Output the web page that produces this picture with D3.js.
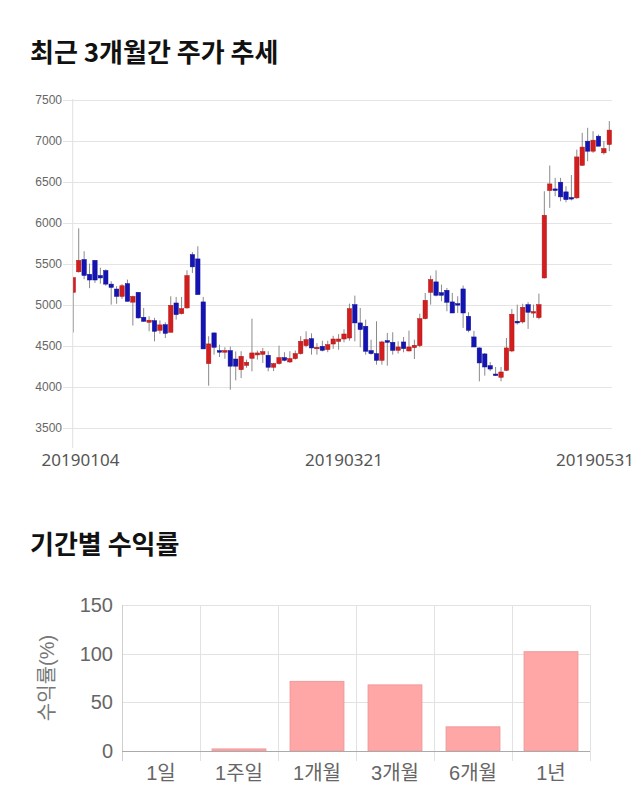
<!DOCTYPE html>
<html><head><meta charset="utf-8">
<script src="https://cdn.jsdelivr.net/npm/d3@7"></script>
<style>
html,body{margin:0;padding:0;background:#fff;}
svg{display:block;}
</style>
</head><body>
<svg id="chart" width="640" height="810"></svg>
<script>
// ---- Candle data (trading days 2019-01-04 .. 2019-05-31) ----
const dates = [
"20190104","20190107","20190108","20190109","20190110","20190111","20190114","20190115","20190116","20190117",
"20190118","20190121","20190122","20190123","20190124","20190125","20190128","20190129","20190130","20190131",
"20190201","20190207","20190208","20190211","20190212","20190213","20190214","20190215","20190218","20190219",
"20190220","20190221","20190222","20190225","20190226","20190227","20190228","20190304","20190305","20190306",
"20190307","20190308","20190311","20190312","20190313","20190314","20190315","20190318","20190319","20190320",
"20190321","20190322","20190325","20190326","20190327","20190328","20190329","20190401","20190402","20190403",
"20190404","20190405","20190408","20190409","20190410","20190411","20190412","20190415","20190416","20190417",
"20190418","20190419","20190422","20190423","20190424","20190425","20190426","20190429","20190430","20190502",
"20190503","20190507","20190508","20190509","20190510","20190513","20190514","20190515","20190516","20190517",
"20190520","20190521","20190522","20190523","20190524","20190527","20190528","20190529","20190530","20190531"];
const opens = [
5150,5400,5550,5370,5540,5355,5415,5250,5190,5100,
5256,5030,5150,4846,4785,4805,4687,4756,4663,5020,
4890,4960,5610,5557,5033,4281,4655,4440,4420,4440,
4337,4207,4260,4346,4387,4395,4383,4237,4281,4354,
4301,4342,4403,4500,4585,4464,4492,4452,4520,4553,
4581,4593,5000,4777,4736,4440,4403,4321,4561,4541,
4443,4545,4435,4476,4500,4829,5150,5277,5146,5175,
5033,5012,5191,4858,4606,4472,4399,4256,4154,4114,
4199,4435,4797,4789,5000,4902,4841,5325,6390,6410,
6492,6374,6305,6301,6698,6992,6870,7053,6850,6951];
const highs = [
5330,5930,5650,5500,5540,5450,5430,5285,5225,5250,
5305,5110,5150,4960,4858,4840,4808,4785,5102,5094,
5094,5418,5640,5711,5094,4615,4660,4512,4480,4490,
4430,4432,4330,4829,4440,4472,4432,4290,4500,4420,
4432,4440,4615,4675,4650,4530,4560,4560,4620,4640,
4700,5012,5110,4960,4817,4573,4797,4560,4655,4663,
4553,4606,4683,4573,4890,5142,5354,5418,5244,5203,
5142,5102,5232,4907,4680,4480,4410,4300,4240,4240,
4593,4947,5000,5010,5030,5000,5134,6382,6695,6545,
6545,6443,6580,6890,7094,7155,7114,7073,6992,7237];
const lows = [
4660,5390,5310,5200,5265,5255,5230,5000,5010,5070,
5040,4745,4830,4790,4675,4553,4646,4593,4663,4817,
4880,4950,5386,5122,4460,4012,4390,4362,4340,3963,
4077,4105,4230,4187,4330,4289,4187,4190,4270,4310,
4290,4330,4390,4480,4390,4390,4430,4420,4460,4450,
4540,4560,4553,4480,4390,4390,4268,4268,4256,4390,
4403,4419,4430,4337,4480,4820,5000,5100,5041,4919,
4898,4898,4716,4663,4480,4065,4134,4190,4130,4065,
4190,4420,4756,4770,4704,4840,4820,5320,6179,6321,
6260,6248,6270,6290,6690,6748,6850,6931,6829,6870];
const closes = [
5330,5540,5355,5300,5300,5325,5250,5210,5100,5230,
5040,5100,4838,4797,4810,4675,4753,4650,4992,4878,
4951,5354,5460,5122,4460,4521,4480,4420,4440,4250,
4250,4370,4297,4411,4411,4427,4237,4281,4354,4321,
4342,4403,4553,4573,4472,4480,4443,4512,4581,4581,
4642,4951,4777,4696,4432,4403,4321,4545,4541,4443,
4484,4464,4484,4504,4829,5053,5305,5114,5114,5029,
4898,4996,4898,4687,4484,4289,4240,4215,4138,4179,
4472,4883,4777,4968,4907,4915,5000,6089,6471,6398,
6313,6280,6297,6800,6920,6870,7004,6931,6902,7127];
const priceTicks = [3500,4000,4500,5000,5500,6000,6500,7000,7500];
const dateLabels = ["20190104","20190321","20190531"];

// ---- Return bar data ----
const periods = ["1일","1주일","1개월","3개월","6개월","1년"];
const returns = [0, 2.1, 71.5, 67.9, 24.8, 102];
const returnTicks = [0,50,100,150];

const svg = d3.select("#chart");
const KFONT = "'Noto Sans CJK KR','Noto Sans',sans-serif";
const AFONT = "'Liberation Sans',Arial,'Noto Sans CJK KR',sans-serif";

// Titles
svg.append("text").attr("x",30).attr("y",62).text("최근 3개월간 주가 추세")
  .attr("font-family",KFONT).attr("font-weight","bold").attr("font-size",26).attr("fill","#111");
svg.append("text").attr("x",30).attr("y",554).text("기간별 수익률")
  .attr("font-family",KFONT).attr("font-weight","bold").attr("font-size",26).attr("fill","#111");

// ---- Candlestick chart ----
const cLeft = 72.7, cRight = 612;
const x = d3.scalePoint().domain(dates).range([73.3, 609.3]);
const y = d3.scaleLinear().domain([3500,7500]).range([427.7, 99.5]);

const cg = svg.append("g");
cg.selectAll("line.grid").data(priceTicks).join("line")
  .attr("x1",63).attr("x2",cRight)
  .attr("y1",d=>Math.round(y(d))+0.5).attr("y2",d=>Math.round(y(d))+0.5)
  .attr("stroke","#e4e4e4").attr("stroke-width",1);
cg.selectAll("text.pt").data(priceTicks).join("text")
  .attr("x",62).attr("y",d=>y(d)+4).attr("text-anchor","end")
  .attr("font-family",AFONT).attr("font-size",12).attr("fill","#666").text(d=>d);
cg.append("line").attr("x1",cLeft).attr("x2",cLeft).attr("y1",99).attr("y2",448)
  .attr("stroke","#e0e0e0").attr("stroke-width",1);

svg.append("clipPath").attr("id","cclip").append("rect")
  .attr("x",cLeft+0.5).attr("y",90).attr("width",cRight-cLeft).attr("height",350);

const candles = dates.map((d,i)=>({d, o:opens[i], h:highs[i], l:lows[i], c:closes[i]}));
const cc = svg.append("g").attr("clip-path","url(#cclip)");
const bw = 4.4;
cc.selectAll("line.wick").data(candles).join("line")
  .attr("x1",d=>x(d.d)).attr("x2",d=>x(d.d))
  .attr("y1",d=>y(d.h)).attr("y2",d=>y(d.l))
  .attr("stroke","#8a8a8a").attr("stroke-width",1);
cc.selectAll("rect.body").data(candles).join("rect")
  .attr("x",d=>x(d.d)-bw/2).attr("width",bw)
  .attr("y",d=>y(Math.max(d.o,d.c)))
  .attr("height",d=>Math.max(1.5, Math.abs(y(d.o)-y(d.c))))
  .attr("fill",d=>d.c>=d.o ? "#d21e1e" : "#1414b4")
  .attr("stroke",d=>d.c>=d.o ? "#b01515" : "#10108f").attr("stroke-width",0.5);

// date labels
svg.selectAll("text.dl").data(dateLabels).join("text")
  .attr("x",d=>Math.max(80.5, Math.min(595, x(d))))
  .attr("y",466).attr("text-anchor","middle")
  .attr("font-family","'Noto Sans',sans-serif").attr("font-size",17).attr("fill","#555")
  .text(d=>d);

// ---- Returns bar chart ----
const bx = d3.scaleBand().domain(periods).range([122,590]).paddingInner(0.31).paddingOuter(0.155);
const by = d3.scaleLinear().domain([0,150]).range([751,605]);
const bg = svg.append("g");
bg.selectAll("line.hg").data(returnTicks.filter(t=>t>0)).join("line")
  .attr("x1",122).attr("x2",590)
  .attr("y1",d=>Math.round(by(d))+0.5).attr("y2",d=>Math.round(by(d))+0.5)
  .attr("stroke","#e2e2e2");
const step = bx.step();
const bounds = d3.range(periods.length+1).map(i=>122 + i*step);
bg.selectAll("line.vg").data(bounds).join("line")
  .attr("x1",d=>Math.round(d)+0.5).attr("x2",d=>Math.round(d)+0.5)
  .attr("y1",605).attr("y2",761)
  .attr("stroke",(d,i)=> i===0 ? "#cfcfcf" : "#e2e2e2");
bg.selectAll("rect.bar").data(periods).join("rect")
  .attr("x",d=>bx(d)).attr("width",bx.bandwidth())
  .attr("y",(d,i)=>by(Math.max(0,returns[i])))
  .attr("height",(d,i)=>Math.abs(by(returns[i])-by(0)))
  .attr("fill","#ffa6a6").attr("stroke","#f09a9a").attr("stroke-width",1);
bg.append("line").attr("x1",122).attr("x2",590)
  .attr("y1",Math.round(by(0))+0.5).attr("y2",Math.round(by(0))+0.5)
  .attr("stroke","#aaa");
bg.selectAll("text.rt").data(returnTicks).join("text")
  .attr("x",113).attr("y",d=>by(d)+7).attr("text-anchor","end")
  .attr("font-family",AFONT).attr("font-size",20).attr("fill","#666").text(d=>d);
bg.selectAll("text.cat").data(periods).join("text")
  .attr("x",d=>bx(d)+bx.bandwidth()/2).attr("y",780).attr("text-anchor","middle")
  .attr("font-family",AFONT).attr("font-size",20).attr("fill","#666").text(d=>d);
bg.append("text").attr("transform","translate(54,678) rotate(-90)")
  .attr("text-anchor","middle").attr("font-family",AFONT).attr("font-size",20)
  .attr("fill","#777").text("수익률(%)");
</script>
</body></html>
